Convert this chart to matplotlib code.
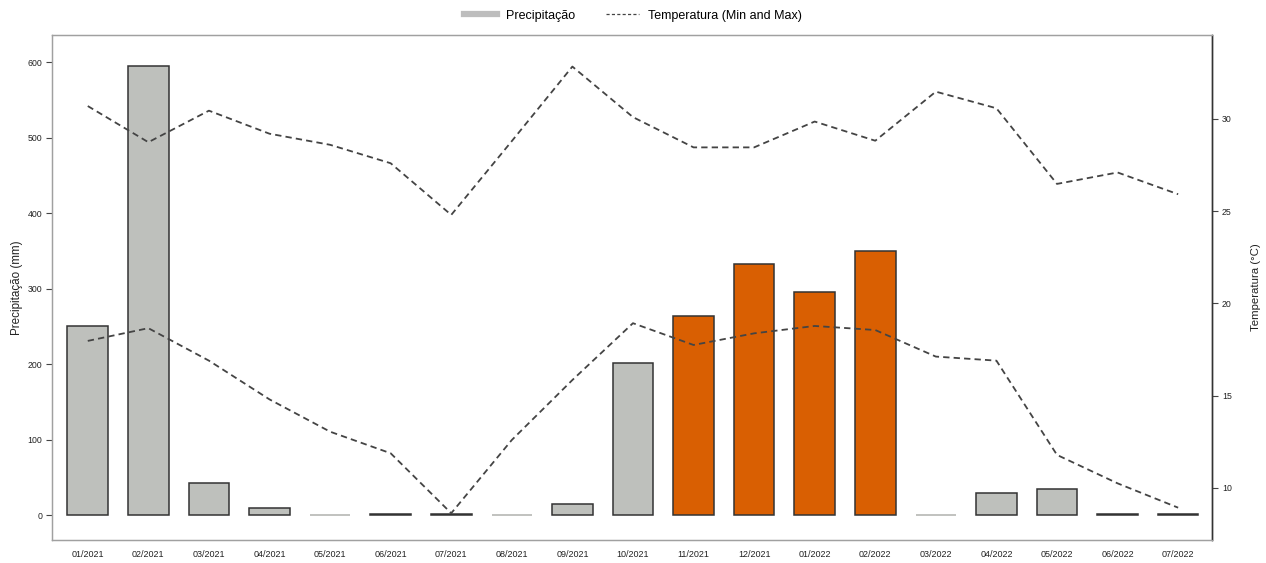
import matplotlib
matplotlib.use("Agg")
import matplotlib.pyplot as plt
from matplotlib.lines import Line2D

plt.rcParams["font.family"] = ["Liberation Sans", "DejaVu Sans"]

months = ["01/2021", "02/2021", "03/2021", "04/2021", "05/2021", "06/2021",
          "07/2021", "08/2021", "09/2021", "10/2021", "11/2021", "12/2021",
          "01/2022", "02/2022", "03/2022", "04/2022", "05/2022", "06/2022",
          "07/2022"]
precip_mm = [250, 595, 43, 9, 0, 2, 1, 0, 15, 202, 264, 332, 296, 350, 0, 29, 34, 2, 1]
temp_max = [30.7, 28.74, 30.45, 29.2, 28.6, 27.6, 24.8, 28.8, 32.84, 30.1,
            28.46, 28.46, 29.86, 28.82, 31.48, 30.58, 26.48, 27.1, 25.92]
temp_min = [17.97, 18.66, 16.9, 14.8, 13.05, 11.88, 8.63, 12.6, 15.85, 18.93,
            17.75, 18.38, 18.78, 18.56, 17.12, 16.9, 11.79, 10.25, 8.93]
highlight = ["11/2021", "12/2021", "01/2022", "02/2022"]

GREY = "#BEC0BC"
ORANGE = "#D95F02"
LINE = "#444444"

fig = plt.figure(figsize=(12.66, 5.63), dpi=100)
ax = fig.add_axes([0.0411, 0.0409, 0.9163, 0.8969])

x = list(range(len(months)))
fills = [ORANGE if m in highlight else GREY for m in months]
edges = ["#333333" if v > 0 else "#B0B2AE" for v in precip_mm]
ax.bar(x, precip_mm, width=0.67, color=fills, edgecolor=edges, linewidth=1.1, zorder=2)

ax.set_xlim(-0.59, 18.56)
ax.set_ylim(-33, 636)
ax.set_yticks([0, 100, 200, 300, 400, 500, 600])
ax.set_xticks(x)
ax.set_xticklabels(months)
ax.tick_params(axis="x", length=0, labelsize=6.5, pad=7, colors="#222222")
ax.tick_params(axis="y", length=4, width=0.8, labelsize=6.3, pad=3,
               colors="#444444", labelcolor="#222222")
ax.set_ylabel("Precipitação (mm)", fontsize=8.4, labelpad=3, color="#222222")

ax2 = ax.twinx()
ax2.plot(x, temp_max, color=LINE, linestyle=(0, (3.5, 2.3)), linewidth=1.3, zorder=3)
ax2.plot(x, temp_min, color=LINE, linestyle=(0, (3.5, 2.3)), linewidth=1.3, zorder=3)
ax2.set_ylim(7.18, 34.55)
ax2.set_yticks([10, 15, 20, 25, 30])
ax2.tick_params(axis="y", length=4, width=0.8, labelsize=6.3, pad=3,
                colors="#444444", labelcolor="#222222")
ax2.set_ylabel("Temperatura (°C)", fontsize=8.2, labelpad=14, color="#222222")

for a in (ax, ax2):
    for side in ("top", "bottom", "left"):
        a.spines[side].set_color("#A0A0A0")
        a.spines[side].set_linewidth(0.9)
    a.spines["right"].set_color("#333333")
    a.spines["right"].set_linewidth(1.0)

handles = [
    Line2D([], [], color="#BDBDBD", linewidth=4.5),
    Line2D([], [], color=LINE, linewidth=0.9, linestyle=(0, (2.5, 1.8))),
]
fig.legend(handles, ["Precipitação", "Temperatura (Min and Max)"],
           loc="center", bbox_to_anchor=(0.5, 0.972), ncol=2, frameon=False,
           fontsize=9, handlelength=2.6, handletextpad=0.75, columnspacing=2.5)

fig.savefig("out.png", dpi=100)
